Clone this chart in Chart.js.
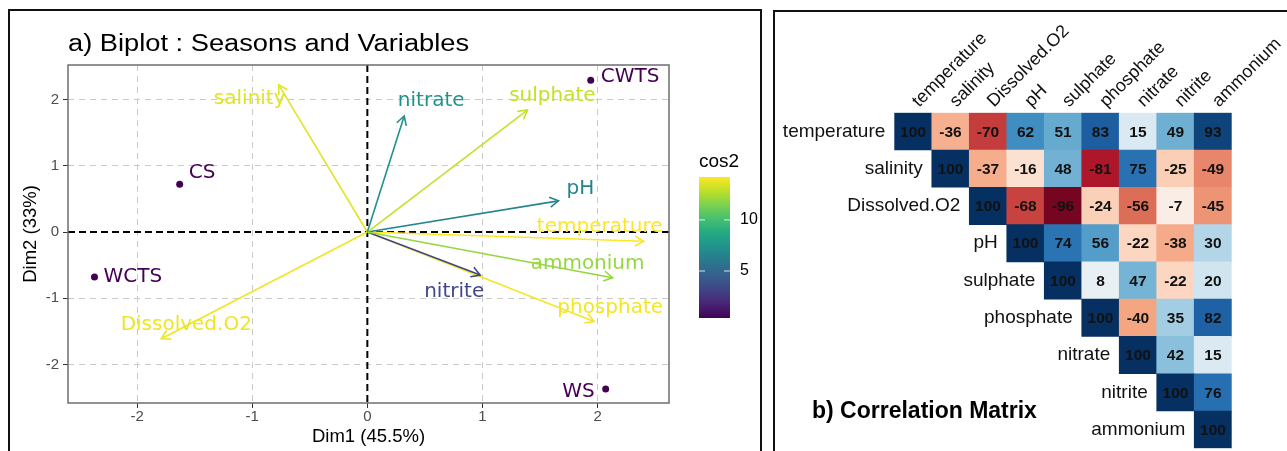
<!DOCTYPE html>
<html>
<head>
<meta charset="utf-8">
<script src="https://cdn.jsdelivr.net/npm/chart.js@4.4.1/dist/chart.umd.min.js"></script>
<style>
  html, body { margin:0; padding:0; background:#fff; width:1287px; height:451px; overflow:hidden; }
  canvas { position:absolute; top:0; }
  #biplot { left:0; }
  #corr { left:770px; }
  .box { position:absolute; border:2px solid #111; box-sizing:border-box; pointer-events:none; }
  .title { position:absolute; font-family:"Liberation Sans", Arial, sans-serif; line-height:1; white-space:nowrap; color:#000; }
</style>
</head>
<body>
<canvas id="biplot" width="770" height="451"></canvas>
<canvas id="corr" width="517" height="451"></canvas>
<div class="box" style="left:8px;top:9px;width:754px;height:480px"></div>
<div class="box" style="left:773px;top:10px;width:560px;height:480px"></div>
<div class="title" style="left:68px;top:32px;font-size:23.5px;transform:scaleX(1.16);transform-origin:0 0">a) Biplot : Seasons and Variables</div>
<div class="title" style="left:812px;top:399px;font-size:23px;font-weight:bold">b) Correlation Matrix</div>
<script>
// variabili (frecce del biplot)
const varNames = ['temperature', 'salinity', 'Dissolved.O2', 'pH', 'sulphate', 'phosphate', 'nitrate', 'nitrite', 'ammonium'];
const dim1 = [2.40, -0.77, -1.79, 1.66, 1.39, 1.97, 0.32, 0.98, 2.13];
const dim2 = [-0.14, 2.22, -1.61, 0.47, 1.84, -1.35, 1.75, -0.65, -0.69];
const cos2 = [14.2, 13.6, 13.9, 6.6, 13.0, 14.0, 7.3, 3.3, 12.0];

// stagioni (individui)
const seasons = ['CWTS', 'CS', 'WCTS', 'WS'];
const seasonDim1 = [1.94, -1.63, -2.37, 2.07];
const seasonDim2 = [2.29, 0.72, -0.68, -2.37];

const axisTicks = [-2, -1, 0, 1, 2];
const cos2Ticks = [5, 10];
const cos2Limits = [0.4, 14.2];

// matrice di correlazione, triangolo superiore (la riga r parte dalla colonna r)
const corrRows = [
    [100, -36, -70, 62, 51, 83, 15, 49, 93],
    [100, -37, -16, 48, -81, 75, -25, -49],
    [100, -68, -96, -24, -56, -7, -45],
    [100, 74, 56, -22, -38, 30],
    [100, 8, 47, -22, 20],
    [100, -40, 35, 82],
    [100, 42, 15],
    [100, 76],
    [100]
];

// posizione etichette rispetto alla punta della freccia (px)
const varLabelOffset = [[-44, -14], [-29, 14], [25, -14], [22, -12], [25, -14], [16, -14], [27, -15], [-26, 17], [-25, -14]];
const seasonLabelOffset = [[10, -3, 'left'], [9, -11, 'left'], [9, 0, 'left'], [-11, 3, 'right']];

Chart.defaults.font.family = '"Liberation Sans", Arial, sans-serif';

const VIRIDIS = ['#440154', '#482475', '#414487', '#355f8d', '#2a788e', '#21918c', '#22a884', '#44bf70', '#7ad151', '#bddf26', '#fde725'];
const RDBU = ['#67001f', '#b2182b', '#d6604d', '#f4a582', '#fddbc7', '#f7f7f7', '#d1e5f0', '#92c5de', '#4393c3', '#2166ac', '#053061'];

function hex(c) { return [1, 3, 5].map(i => parseInt(c.slice(i, i + 2), 16)); }
function ramp(stops, t) {
    t = Math.max(0, Math.min(1, t));
    const p = t * (stops.length - 1);
    const i = Math.min(stops.length - 2, Math.floor(p));
    const f = p - i;
    const a = hex(stops[i]), b = hex(stops[i + 1]);
    return 'rgb(' + a.map((v, k) => Math.round(v + (b[k] - v) * f)).join(',') + ')';
}
const viridis = v => ramp(VIRIDIS, (v - cos2Limits[0]) / (cos2Limits[1] - cos2Limits[0]));
const rdbu = v => ramp(RDBU, (v + 100) / 200);

// ---------- a) biplot ----------
const biplotDeco = {
    id: 'biplotDeco',
    beforeDatasetsDraw(chart) {
        const {ctx, chartArea: ca, scales: {x, y}} = chart;
        ctx.save();
        ctx.strokeStyle = '#000';
        ctx.lineWidth = 2;
        ctx.setLineDash([7, 4]);
        const x0 = x.getPixelForValue(0), y0 = y.getPixelForValue(0);
        ctx.beginPath();
        ctx.moveTo(ca.left, y0); ctx.lineTo(ca.right, y0);
        ctx.moveTo(x0, ca.top); ctx.lineTo(x0, ca.bottom);
        ctx.stroke();
        ctx.setLineDash([]);
        ctx.strokeStyle = '#6e6e6e';
        ctx.lineWidth = 1.5;
        ctx.strokeRect(ca.left, ca.top, ca.right - ca.left, ca.bottom - ca.top);
        ctx.restore();
    },
    afterDatasetsDraw(chart) {
        const {ctx, scales: {x, y}} = chart;
        const ox = x.getPixelForValue(0), oy = y.getPixelForValue(0);
        ctx.save();
        // punte delle frecce
        ctx.lineWidth = 1.6;
        varNames.forEach((n, i) => {
            const tx = x.getPixelForValue(dim1[i]), ty = y.getPixelForValue(dim2[i]);
            const a = Math.atan2(ty - oy, tx - ox), L = 10, w = Math.PI / 6;
            ctx.strokeStyle = viridis(cos2[i]);
            ctx.beginPath();
            ctx.moveTo(tx - L * Math.cos(a - w), ty - L * Math.sin(a - w));
            ctx.lineTo(tx, ty);
            ctx.lineTo(tx - L * Math.cos(a + w), ty - L * Math.sin(a + w));
            ctx.stroke();
        });
        // etichette variabili
        ctx.font = '20px "DejaVu Sans"';
        ctx.textAlign = 'center';
        ctx.textBaseline = 'middle';
        varNames.forEach((n, i) => {
            ctx.fillStyle = viridis(cos2[i]);
            ctx.fillText(n, x.getPixelForValue(dim1[i]) + varLabelOffset[i][0], y.getPixelForValue(dim2[i]) + varLabelOffset[i][1]);
        });
        // etichette stagioni
        ctx.fillStyle = '#440154';
        seasons.forEach((s, i) => {
            const o = seasonLabelOffset[i];
            ctx.textAlign = o[2];
            ctx.fillText(s, x.getPixelForValue(seasonDim1[i]) + o[0], y.getPixelForValue(seasonDim2[i]) + o[1]);
        });
        ctx.restore();
    },
    afterDraw(chart) {
        // legenda cos2
        const {ctx} = chart;
        const left = 699, right = 730, top = 177, bottom = 318;
        ctx.save();
        const g = ctx.createLinearGradient(0, bottom, 0, top);
        VIRIDIS.forEach((c, i) => g.addColorStop(i / (VIRIDIS.length - 1), c));
        ctx.fillStyle = g;
        ctx.fillRect(left, top, right - left, bottom - top);
        ctx.fillStyle = '#000';
        ctx.font = '19px "Liberation Sans"';
        ctx.textAlign = 'left';
        ctx.textBaseline = 'middle';
        ctx.fillText('cos2', left, 162);
        ctx.font = '16px "Liberation Sans"';
        ctx.strokeStyle = 'rgba(255,255,255,0.8)';
        ctx.lineWidth = 1;
        cos2Ticks.forEach(v => {
            const py = bottom - (v - cos2Limits[0]) / (cos2Limits[1] - cos2Limits[0]) * (bottom - top);
            ctx.beginPath();
            ctx.moveTo(left, py); ctx.lineTo(left + 6, py);
            ctx.moveTo(right - 6, py); ctx.lineTo(right, py);
            ctx.stroke();
            ctx.fillText(String(v), right + 10, py);
        });
        ctx.restore();
    }
};

const biDatasets = varNames.map((n, i) => ({
    label: n,
    data: [{x: 0, y: 0}, {x: dim1[i], y: dim2[i]}],
    showLine: true,
    borderColor: viridis(cos2[i]),
    borderWidth: 1.6,
    pointRadius: 0,
    order: -i
}));
biDatasets.push({
    label: 'seasons',
    data: seasons.map((s, i) => ({x: seasonDim1[i], y: seasonDim2[i]})),
    pointRadius: 3.5,
    pointBackgroundColor: '#440154',
    pointBorderWidth: 0,
    order: -20
});

const gridOpts = {color: '#cacaca', lineWidth: 1, tickColor: '#333', tickLength: 5, tickWidth: 1, tickBorderDash: []};

new Chart(document.getElementById('biplot'), {
    type: 'scatter',
    data: {datasets: biDatasets},
    options: {
        responsive: false,
        animation: false,
        events: [],
        layout: {padding: {top: 65, right: 101, bottom: 0, left: 0}},
        plugins: {legend: {display: false}, tooltip: {enabled: false}},
        scales: {
            x: {
                type: 'linear', min: -2.6, max: 2.62,
                afterBuildTicks: s => { s.ticks = axisTicks.map(v => ({value: v})); },
                afterFit: s => { s.height = 48; },
                grid: gridOpts,
                border: {display: false, dash: [6, 5]},
                ticks: {color: '#4d4d4d', font: {size: 15}, padding: 0, maxRotation: 0},
                title: {display: true, text: 'Dim1 (45.5%)', color: '#000', font: {size: 18.5}, padding: {top: 0, bottom: 3}}
            },
            y: {
                type: 'linear', min: -2.58, max: 2.52,
                afterBuildTicks: s => { s.ticks = axisTicks.map(v => ({value: v})); },
                afterFit: s => { s.width = 68; },
                grid: gridOpts,
                border: {display: false, dash: [6, 5]},
                ticks: {color: '#4d4d4d', font: {size: 15}, padding: 4},
                title: {display: true, text: 'Dim2 (33%)', color: '#000', font: {size: 18.5}, padding: {top: 20, bottom: 0}}
            }
        }
    },
    plugins: [biplotDeco]
});

// ---------- b) matrice di correlazione ----------
const cells = [];
corrRows.forEach((row, r) => row.forEach((v, k) => {
    cells.push({x: varNames[r + k], y: [8 - r, 9 - r], v: v});
}));

const heatText = {
    id: 'heatText',
    afterDatasetsDraw(chart) {
        const {ctx, scales: {x, y}} = chart;
        const cw = x.getPixelForValue(1) - x.getPixelForValue(0);
        ctx.save();
        ctx.fillStyle = '#111';
        ctx.textAlign = 'center';
        ctx.textBaseline = 'middle';
        ctx.font = 'bold 15.5px "Liberation Sans"';
        cells.forEach(c => {
            ctx.fillText(String(c.v), x.getPixelForValue(varNames.indexOf(c.x)), y.getPixelForValue((c.y[0] + c.y[1]) / 2) + 1);
        });
        // nomi delle righe
        ctx.font = '19px "Liberation Sans"';
        ctx.textAlign = 'right';
        varNames.forEach((n, r) => {
            ctx.fillText(n, x.getPixelForValue(r) - cw / 2 - 9, y.getPixelForValue(8.5 - r));
        });
        // nomi delle colonne, ruotati di 45 gradi
        ctx.font = '18px "Liberation Sans"';
        ctx.textAlign = 'left';
        ctx.textBaseline = 'alphabetic';
        varNames.forEach((n, c) => {
            ctx.save();
            ctx.translate(x.getPixelForValue(c) + 6, y.top - 5);
            ctx.rotate(-Math.PI / 4);
            ctx.fillText(n, 0, 0);
            ctx.restore();
        });
        ctx.restore();
    }
};

new Chart(document.getElementById('corr'), {
    type: 'bar',
    data: {
        labels: varNames,
        datasets: [{
            data: cells,
            backgroundColor: cells.map(c => rdbu(c.v)),
            borderWidth: 0,
            barPercentage: 1,
            categoryPercentage: 1
        }]
    },
    options: {
        responsive: false,
        animation: false,
        events: [],
        layout: {padding: {left: 124.3, right: 55.3, top: 112.7, bottom: 2.7}},
        plugins: {legend: {display: false}, tooltip: {enabled: false}},
        scales: {
            x: {display: false},
            y: {display: false, min: 0, max: 9}
        }
    },
    plugins: [heatText]
});
</script>
</body>
</html>
